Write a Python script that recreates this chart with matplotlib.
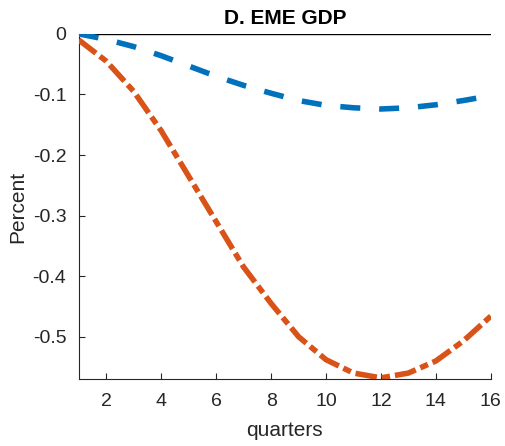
import matplotlib.pyplot as plt

plt.rcParams['font.family'] = ['Liberation Sans', 'DejaVu Sans']
plt.rcParams['axes.unicode_minus'] = False

# impulse responses, percent deviation by quarter
quarters = list(range(1, 17))
blue_resp = [0.0, -0.009, -0.021, -0.036, -0.053, -0.070, -0.085, -0.098,
             -0.110, -0.118, -0.122, -0.124, -0.122, -0.117, -0.110, -0.102]
red_resp = [-0.010, -0.045, -0.095, -0.160, -0.235, -0.310, -0.385, -0.445,
            -0.500, -0.538, -0.560, -0.568, -0.560, -0.540, -0.507, -0.466]

yticks = [0, -0.1, -0.2, -0.3, -0.4, -0.5]
xticks = [2, 4, 6, 8, 10, 12, 14, 16]

fig = plt.figure(figsize=(5.05, 4.46), dpi=100)
ax = fig.add_axes([0.156, 0.150, 0.816, 0.774])

ax.axhline(0, color='black', linewidth=1.0, zorder=1)
ax.plot(quarters, blue_resp, color='#0072BD', linewidth=4.0,
        linestyle=(0, (3.6, 3.4)), zorder=3)
ax.plot(quarters, red_resp, color='#D95319', linewidth=4.0,
        linestyle=(0, (3.9, 0.9, 1.5, 0.9)), zorder=3)

ax.set_xlim(1, 16)
ax.set_ylim(-0.57, 0)
ax.set_xticks(xticks)
ax.set_yticks(yticks)
ax.set_yticklabels(['0', '-0.1', '-0.2', '-0.3', '-0.4', '-0.5'])

for side in ['top', 'right']:
    ax.spines[side].set_visible(False)
for side in ['left', 'bottom']:
    ax.spines[side].set_color('#262626')
    ax.spines[side].set_linewidth(0.8)

ax.tick_params(direction='in', length=4, width=0.8, colors='#262626',
               labelsize=14)
ax.tick_params(axis='x', pad=10)
ax.tick_params(axis='y', pad=9)

ax.set_title('D. EME GDP', fontsize=15, fontweight='bold', pad=7)
ax.set_xlabel('quarters', fontsize=15, color='#262626', labelpad=8)
ax.set_ylabel('Percent', fontsize=15, color='#262626', labelpad=4)

fig.savefig('out.png', dpi=100)
